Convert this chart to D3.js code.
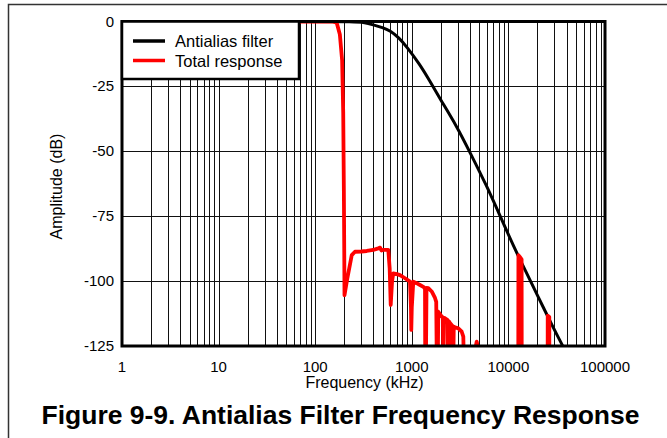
<!DOCTYPE html>
<html><head><meta charset="utf-8">
<script src="https://cdn.jsdelivr.net/npm/d3@7"></script>
<style>body{margin:0;background:#fff;} text{font-family:"Liberation Sans",Arial,sans-serif;}</style>
</head><body>
<svg id="c" width="667" height="438"></svg>
<script>
// ---- data ----
const xTickValues = [1, 10, 100, 1000, 10000, 100000];
const xTickLabels = ["1", "10", "100", "1000", "10000", "100000"];
const yTickValues = [0, -25, -50, -75, -100, -125];
const yTickLabels = ["0", "-25", "-50", "-75", "-100", "-125"];
const seriesNames = ["Antialias filter", "Total response"];
const seriesColors = ["#000000", "#ff0000"];

// Antialias filter: [frequency kHz, dB]
const antialiasFreq = [1, 100, 250, 328, 399, 500, 595, 740, 885, 1200, 1543, 1960, 2917, 4000, 5960, 8180, 11240, 15000, 20000, 30000, 36700, 45000];
const antialiasDb   = [0, 0, -0.1, -0.4, -1.3, -2.3, -3.5, -6.3, -9.7, -16.3, -23, -29.8, -40.3, -50.4, -63.3, -74.8, -86.4, -96, -105.5, -119, -125, -132];

// Total response: [frequency kHz, dB]
const totalFreq = [1, 150, 167, 180, 190, 195, 198, 200, 201, 215, 239, 258, 300, 341, 399, 440, 469, 485, 503, 571, 590, 605, 625, 643, 700, 755, 851, 958, 980, 988, 1000, 1036, 1120, 1216, 1330, 1370, 1380, 1395, 1420, 1482, 1607, 1739, 1790, 1824, 1850, 1880, 2040, 2100, 2118, 2150, 2207, 2350, 2388, 2420, 2485, 2600, 2670, 2720, 2800, 3030, 3286, 3414, 3496, 4500, 4600, 4697, 4800, 4900, 12650, 12700, 13200, 13700, 13750, 25500, 25530, 26500, 26550, 100000];
const totalDb   = [0, 0, -0.5, -5, -15, -35, -65, -90, -105.4, -99, -90, -88.7, -88.6, -88.4, -88, -87.5, -87.1, -88.2, -88, -88, -95, -109.2, -100, -97, -97.3, -97.7, -98.9, -100.2, -110, -118.8, -110, -100.2, -100.8, -101.5, -102.3, -103, -140, -140, -102.6, -102.7, -104, -106.5, -108, -140, -140, -111.8, -113.7, -114, -140, -114.2, -114.3, -115, -140, -115.5, -116.2, -117, -140, -117.5, -117.8, -118.2, -119.5, -121.4, -140, -140, -125, -123.3, -125, -140, -140, -90, -90.8, -91.6, -140, -140, -113.3, -113.8, -140, -140];

// ---- layout ----
const svg = d3.select("#c");
const L = 122, R = 605, T = 21.5, B = 346;
const x = d3.scaleLog().domain([1, 100000]).range([L, R]);
const y = d3.scaleLinear().domain([-125, 0]).range([B, T]);

// outer frame
svg.append("path").attr("d", `M8.5,438 L8.5,4.5 L667,4.5`).attr("fill", "none").attr("stroke", "#333").attr("stroke-width", 1.5);

// grid
const minor = [];
for (let e = 0; e < 5; e++) for (let m = 1; m <= 9; m++) { const v = m * Math.pow(10, e); if (v > 1 && v < 100000) minor.push(v); }
svg.append("g").selectAll("line").data(minor).join("line")
  .attr("x1", d => Math.round(x(d)) + 0.5).attr("x2", d => Math.round(x(d)) + 0.5)
  .attr("y1", T).attr("y2", B).attr("stroke", "#111").attr("stroke-width", 1);
svg.append("g").selectAll("line").data(yTickValues.filter(v => v < 0 && v > -125)).join("line")
  .attr("x1", L).attr("x2", R).attr("y1", d => Math.round(y(d)) + 0.5).attr("y2", d => Math.round(y(d)) + 0.5)
  .attr("stroke", "#111").attr("stroke-width", 1);

// clip
svg.append("clipPath").attr("id", "clip").append("rect").attr("x", L).attr("y", T).attr("width", R - L).attr("height", B - T);

const line = d3.line().x(d => x(d[0])).y(d => y(d[1]));
const smooth = d3.line().x(d => x(d[0])).y(d => y(d[1])).curve(d3.curveBasis);
const antialias = antialiasFreq.map((f, i) => [f, antialiasDb[i]]);
const total = totalFreq.map((f, i) => [f, totalDb[i]]);

svg.append("path").datum(antialias).attr("clip-path", "url(#clip)").attr("d", smooth)
  .attr("fill", "none").attr("stroke", seriesColors[0]).attr("stroke-width", 3).attr("stroke-linejoin", "round");
svg.append("path").datum(total).attr("clip-path", "url(#clip)").attr("d", line)
  .attr("fill", "none").attr("stroke", seriesColors[1]).attr("stroke-width", 3.8).attr("stroke-linejoin", "round");

// plot border
svg.append("rect").attr("x", L).attr("y", T).attr("width", R - L).attr("height", B - T)
  .attr("fill", "none").attr("stroke", "#000").attr("stroke-width", 3);

// axes labels
svg.append("g").selectAll("text").data(xTickValues).join("text")
  .attr("x", d => x(d)).attr("y", 371.5).attr("text-anchor", "middle").attr("font-size", 15)
  .text((d, i) => xTickLabels[i]);
svg.append("g").selectAll("text").data(yTickValues).join("text")
  .attr("x", 114).attr("y", d => y(d) + 5).attr("text-anchor", "end").attr("font-size", 15)
  .text((d, i) => yTickLabels[i]);
svg.append("text").attr("x", 364.5).attr("y", 388).attr("text-anchor", "middle").attr("font-size", 16).text("Frequency (kHz)");
svg.append("text").attr("transform", `translate(62,186.5) rotate(-90)`).attr("text-anchor", "middle").attr("font-size", 16).text("Amplitude (dB)");

// legend
const lg = svg.append("g");
lg.append("rect").attr("x", L).attr("y", T).attr("width", 177).attr("height", 57.5)
  .attr("fill", "#fff").attr("stroke", "#000").attr("stroke-width", 2.5);
seriesNames.forEach((n, i) => {
  const yy = 41 + i * 19.5;
  lg.append("line").attr("x1", 133).attr("x2", 165).attr("y1", yy).attr("y2", yy)
    .attr("stroke", seriesColors[i]).attr("stroke-width", 3.5);
  lg.append("text").attr("x", 175).attr("y", yy + 6).attr("font-size", 16.5).text(n);
});

// title
svg.append("text").attr("x", 340.5).attr("y", 424).attr("text-anchor", "middle")
  .attr("font-size", 26).attr("font-weight", "bold")
  .attr("textLength", 598).attr("lengthAdjust", "spacingAndGlyphs")
  .text("Figure 9-9. Antialias Filter Frequency Response");
</script>
</body></html>
